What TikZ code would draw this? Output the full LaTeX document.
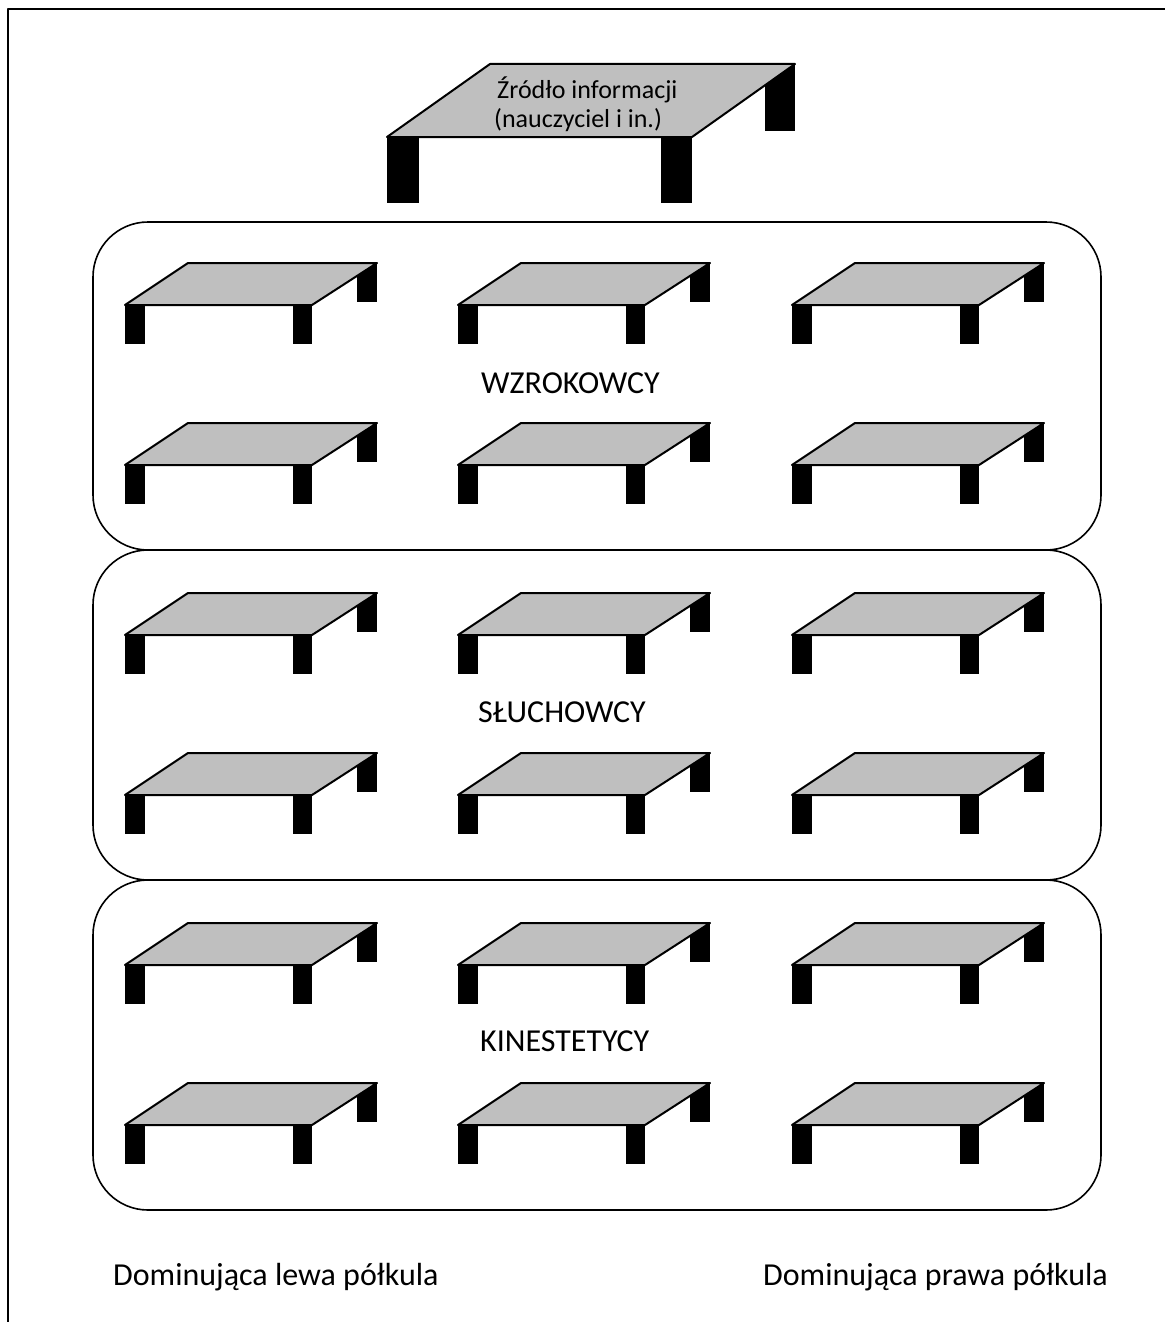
\documentclass[tikz,border=0pt]{standalone}
\usepackage{fontspec}
\setmainfont{Carlito}
\begin{document}
\begin{tikzpicture}[x=1pt,y=-1pt,
  line join=round,
  frame/.style={draw=black,line width=2pt},
  groupbox/.style={draw=black,line width=1.6pt,rounded corners=55pt},
  deskline/.style={draw=black,line width=2pt,fill=gray!50},
  leg/.style={fill=black},
  lbl/.style={font=\fontsize{32}{38}\selectfont,inner sep=0pt,anchor=base west},
  srclbl/.style={font=\fontsize{26}{29}\selectfont,inner sep=0pt,anchor=base west},
  desk/.pic={
    \fill[leg] (0,0) rectangle (20,39);
    \fill[leg] (168,0) rectangle (187,39);
    \fill[leg] (232,-42) rectangle (252,-3);
    \path[deskline] (0,0) -- (63,-42) -- (252,-42) -- (187,0) -- cycle;
  }]
\useasboundingbox (0,0) rectangle (1165,1322);
\draw[frame] (8,1322) -- (8,9) -- (1165,9);
% group boxes
\draw[groupbox] (93,222) rectangle (1101,550);
\draw[groupbox] (93,550) rectangle (1101,880);
\draw[groupbox] (93,880) rectangle (1101,1210);
% teacher desk
\fill[leg] (387,137) rectangle (419,203);
\fill[leg] (661,137) rectangle (692,203);
\fill[leg] (765,64) rectangle (795,131);
\path[deskline] (387,137) -- (490,64) -- (795,64) -- (692,137) -- cycle;
\node[srclbl] (src1) at (497,98) {Źródło informacji};
\node[srclbl] (src2) at (494,127) {(nauczyciel i in.)};
% student desks
\foreach \r in {305,465,635,795,965,1125}{
  \foreach \c in {125,458,792}{
    \pic at (\c,\r) {desk};
  }
}
\node[lbl] (wz) at (481,393) {WZROKOWCY};
\node[lbl] (sl) at (478,722) {SŁUCHOWCY};
\node[lbl] (ki) at (480,1051) {KINESTETYCY};
\node[lbl] (lewa) at (113,1285) {Dominująca lewa półkula};
\node[lbl,anchor=base east] (prawa) at (1108,1285) {Dominująca prawa półkula};
\end{tikzpicture}
\end{document}
